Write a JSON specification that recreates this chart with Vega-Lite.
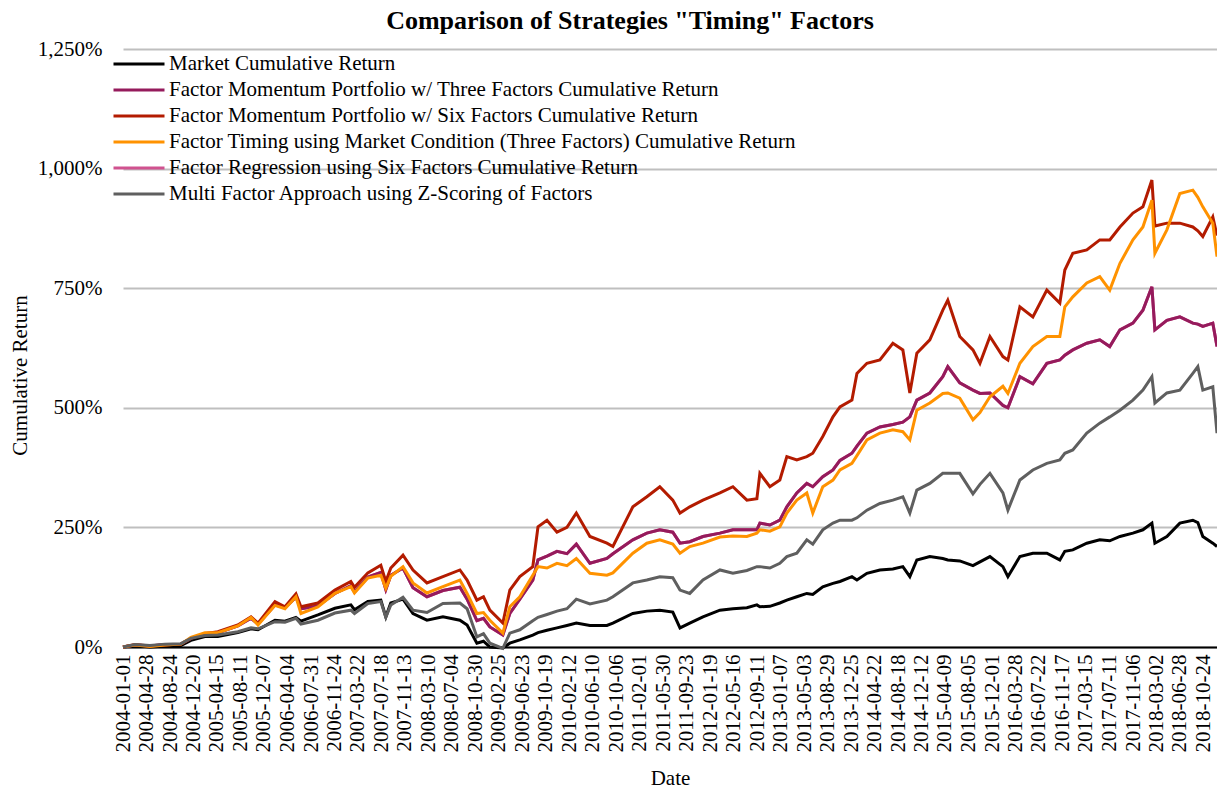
{
  "$schema": "https://vega.github.io/schema/vega-lite/v6.json",
  "width": 1094,
  "height": 598,
  "autosize": {"type": "none"},
  "padding": {"left": 123, "top": 49, "right": 0, "bottom": 145},
  "background": "white",
  "title": {"text": "Comparison of Strategies \"Timing\" Factors", "font": "Liberation Serif", "fontSize": 26, "fontWeight": "bold", "color": "black", "anchor": "middle", "frame": "group", "offset": 4, "dx": -40},
  "config": {"view": {"stroke": null}},
  "data": {"values": [
    {"d":"2004-01-01","mkt":0,"fm3":0,"fm6":0,"tim":0,"reg":0,"mf":0},
    {"d":"2004-03-01","mkt":3,"fm3":4,"fm6":5,"tim":4,"reg":4,"mf":5},
    {"d":"2004-05-15","mkt":0,"fm3":2,"fm6":2,"tim":1,"reg":2,"mf":3},
    {"d":"2004-07-29","mkt":2,"fm3":5,"fm6":4,"tim":4,"reg":5,"mf":6},
    {"d":"2004-10-17","mkt":3,"fm3":6,"fm6":6,"tim":6,"reg":6,"mf":7},
    {"d":"2004-12-06","mkt":14,"fm3":18,"fm6":18,"tim":20,"reg":18,"mf":18},
    {"d":"2005-02-14","mkt":22,"fm3":28,"fm6":28,"tim":30,"reg":28,"mf":24},
    {"d":"2005-04-20","mkt":22,"fm3":30,"fm6":32,"tim":30,"reg":30,"mf":25},
    {"d":"2005-07-29","mkt":30,"fm3":44,"fm6":46,"tim":44,"reg":44,"mf":32},
    {"d":"2005-10-03","mkt":38,"fm3":60,"fm6":63,"tim":62,"reg":60,"mf":40},
    {"d":"2005-11-07","mkt":36,"fm3":48,"fm6":50,"tim":46,"reg":48,"mf":38},
    {"d":"2006-01-31","mkt":56,"fm3":88,"fm6":95,"tim":87,"reg":88,"mf":53},
    {"d":"2006-03-22","mkt":54,"fm3":82,"fm6":84,"tim":80,"reg":82,"mf":52},
    {"d":"2006-05-16","mkt":62,"fm3":104,"fm6":111,"tim":105,"reg":104,"mf":60},
    {"d":"2006-06-10","mkt":54,"fm3":80,"fm6":84,"tim":70,"reg":80,"mf":48},
    {"d":"2006-09-03","mkt":67,"fm3":86,"fm6":92,"tim":84,"reg":86,"mf":56},
    {"d":"2006-11-27","mkt":81,"fm3":112,"fm6":119,"tim":112,"reg":112,"mf":71},
    {"d":"2007-02-15","mkt":88,"fm3":128,"fm6":137,"tim":126,"reg":128,"mf":77},
    {"d":"2007-03-05","mkt":78,"fm3":115,"fm6":125,"tim":113,"reg":115,"mf":70},
    {"d":"2007-05-11","mkt":95,"fm3":146,"fm6":155,"tim":144,"reg":146,"mf":91},
    {"d":"2007-07-15","mkt":98,"fm3":156,"fm6":171,"tim":150,"reg":156,"mf":95},
    {"d":"2007-08-09","mkt":63,"fm3":120,"fm6":137,"tim":123,"reg":120,"mf":62},
    {"d":"2007-09-03","mkt":92,"fm3":150,"fm6":165,"tim":148,"reg":150,"mf":88},
    {"d":"2007-11-03","mkt":100,"fm3":165,"fm6":192,"tim":168,"reg":165,"mf":104},
    {"d":"2007-12-23","mkt":70,"fm3":124,"fm6":161,"tim":134,"reg":124,"mf":77},
    {"d":"2008-03-02","mkt":56,"fm3":105,"fm6":134,"tim":113,"reg":105,"mf":72},
    {"d":"2008-05-21","mkt":63,"fm3":118,"fm6":147,"tim":126,"reg":118,"mf":91},
    {"d":"2008-08-14","mkt":56,"fm3":125,"fm6":161,"tim":140,"reg":125,"mf":92},
    {"d":"2008-09-19","mkt":46,"fm3":100,"fm6":140,"tim":112,"reg":100,"mf":80},
    {"d":"2008-11-07","mkt":8,"fm3":55,"fm6":98,"tim":70,"reg":55,"mf":21},
    {"d":"2008-12-10","mkt":12,"fm3":60,"fm6":105,"tim":72,"reg":60,"mf":28},
    {"d":"2009-01-11","mkt":0,"fm3":42,"fm6":77,"tim":56,"reg":42,"mf":8},
    {"d":"2009-03-17","mkt":-2,"fm3":25,"fm6":50,"tim":29,"reg":25,"mf":-3},
    {"d":"2009-04-21","mkt":8,"fm3":70,"fm6":119,"tim":84,"reg":70,"mf":29},
    {"d":"2009-06-10","mkt":15,"fm3":100,"fm6":147,"tim":105,"reg":100,"mf":36},
    {"d":"2009-08-14","mkt":25,"fm3":140,"fm6":168,"tim":150,"reg":140,"mf":55},
    {"d":"2009-09-09","mkt":30,"fm3":182,"fm6":251,"tim":168,"reg":182,"mf":62},
    {"d":"2009-10-24","mkt":35,"fm3":190,"fm6":265,"tim":165,"reg":190,"mf":68},
    {"d":"2009-12-13","mkt":40,"fm3":200,"fm6":240,"tim":175,"reg":200,"mf":75},
    {"d":"2010-02-01","mkt":45,"fm3":195,"fm6":250,"tim":170,"reg":195,"mf":80},
    {"d":"2010-03-20","mkt":50,"fm3":215,"fm6":280,"tim":185,"reg":215,"mf":100},
    {"d":"2010-05-27","mkt":45,"fm3":175,"fm6":231,"tim":154,"reg":175,"mf":90},
    {"d":"2010-08-20","mkt":45,"fm3":185,"fm6":217,"tim":150,"reg":185,"mf":98},
    {"d":"2010-09-19","mkt":50,"fm3":195,"fm6":210,"tim":155,"reg":195,"mf":105},
    {"d":"2010-12-28","mkt":70,"fm3":224,"fm6":293,"tim":196,"reg":224,"mf":134},
    {"d":"2011-03-08","mkt":75,"fm3":238,"fm6":314,"tim":217,"reg":238,"mf":140},
    {"d":"2011-05-12","mkt":77,"fm3":245,"fm6":335,"tim":224,"reg":245,"mf":147},
    {"d":"2011-07-16","mkt":73,"fm3":240,"fm6":307,"tim":215,"reg":240,"mf":145},
    {"d":"2011-08-21","mkt":40,"fm3":217,"fm6":280,"tim":196,"reg":217,"mf":119},
    {"d":"2011-10-09","mkt":50,"fm3":220,"fm6":293,"tim":210,"reg":220,"mf":112},
    {"d":"2011-12-14","mkt":63,"fm3":231,"fm6":307,"tim":217,"reg":231,"mf":140},
    {"d":"2012-03-08","mkt":77,"fm3":238,"fm6":322,"tim":230,"reg":238,"mf":161},
    {"d":"2012-05-12","mkt":80,"fm3":245,"fm6":335,"tim":232,"reg":245,"mf":154},
    {"d":"2012-07-21","mkt":82,"fm3":245,"fm6":307,"tim":231,"reg":245,"mf":160},
    {"d":"2012-09-09","mkt":88,"fm3":245,"fm6":310,"tim":238,"reg":245,"mf":168},
    {"d":"2012-09-24","mkt":84,"fm3":259,"fm6":363,"tim":245,"reg":259,"mf":168},
    {"d":"2012-11-13","mkt":85,"fm3":255,"fm6":335,"tim":242,"reg":255,"mf":165},
    {"d":"2013-01-02","mkt":92,"fm3":265,"fm6":349,"tim":251,"reg":265,"mf":175},
    {"d":"2013-02-06","mkt":98,"fm3":293,"fm6":398,"tim":280,"reg":293,"mf":189},
    {"d":"2013-03-28","mkt":105,"fm3":322,"fm6":391,"tim":307,"reg":322,"mf":196},
    {"d":"2013-05-17","mkt":112,"fm3":342,"fm6":398,"tim":322,"reg":342,"mf":224},
    {"d":"2013-06-16","mkt":110,"fm3":335,"fm6":405,"tim":280,"reg":335,"mf":215},
    {"d":"2013-08-05","mkt":126,"fm3":356,"fm6":440,"tim":335,"reg":356,"mf":245},
    {"d":"2013-09-25","mkt":133,"fm3":370,"fm6":481,"tim":349,"reg":370,"mf":259},
    {"d":"2013-10-30","mkt":137,"fm3":390,"fm6":502,"tim":370,"reg":390,"mf":265},
    {"d":"2013-12-29","mkt":147,"fm3":405,"fm6":516,"tim":384,"reg":405,"mf":265},
    {"d":"2014-01-23","mkt":140,"fm3":420,"fm6":572,"tim":400,"reg":420,"mf":270},
    {"d":"2014-03-14","mkt":154,"fm3":447,"fm6":593,"tim":433,"reg":447,"mf":286},
    {"d":"2014-05-18","mkt":161,"fm3":460,"fm6":600,"tim":447,"reg":460,"mf":300},
    {"d":"2014-07-22","mkt":163,"fm3":465,"fm6":635,"tim":454,"reg":465,"mf":307},
    {"d":"2014-09-10","mkt":168,"fm3":470,"fm6":621,"tim":450,"reg":470,"mf":314},
    {"d":"2014-10-15","mkt":147,"fm3":481,"fm6":531,"tim":433,"reg":481,"mf":280},
    {"d":"2014-11-19","mkt":182,"fm3":516,"fm6":614,"tim":495,"reg":516,"mf":328},
    {"d":"2015-01-23","mkt":189,"fm3":531,"fm6":642,"tim":510,"reg":531,"mf":342},
    {"d":"2015-03-29","mkt":185,"fm3":565,"fm6":704,"tim":530,"reg":565,"mf":363},
    {"d":"2015-04-23","mkt":182,"fm3":586,"fm6":725,"tim":531,"reg":586,"mf":363},
    {"d":"2015-06-22","mkt":180,"fm3":552,"fm6":649,"tim":520,"reg":552,"mf":363},
    {"d":"2015-08-27","mkt":170,"fm3":537,"fm6":621,"tim":475,"reg":537,"mf":320},
    {"d":"2015-10-01","mkt":178,"fm3":530,"fm6":593,"tim":490,"reg":530,"mf":340},
    {"d":"2015-11-20","mkt":189,"fm3":531,"fm6":649,"tim":523,"reg":531,"mf":363},
    {"d":"2016-01-24","mkt":168,"fm3":505,"fm6":607,"tim":545,"reg":505,"mf":322},
    {"d":"2016-02-18","mkt":147,"fm3":500,"fm6":600,"tim":530,"reg":500,"mf":286},
    {"d":"2016-04-18","mkt":189,"fm3":565,"fm6":711,"tim":593,"reg":565,"mf":349},
    {"d":"2016-06-22","mkt":196,"fm3":550,"fm6":690,"tim":628,"reg":550,"mf":370},
    {"d":"2016-08-31","mkt":196,"fm3":593,"fm6":746,"tim":649,"reg":593,"mf":384},
    {"d":"2016-11-04","mkt":182,"fm3":600,"fm6":719,"tim":649,"reg":600,"mf":391},
    {"d":"2016-11-29","mkt":200,"fm3":610,"fm6":788,"tim":711,"reg":610,"mf":405},
    {"d":"2017-01-08","mkt":203,"fm3":621,"fm6":823,"tim":732,"reg":621,"mf":412},
    {"d":"2017-03-19","mkt":217,"fm3":635,"fm6":830,"tim":761,"reg":635,"mf":447},
    {"d":"2017-05-23","mkt":224,"fm3":642,"fm6":851,"tim":774,"reg":642,"mf":468},
    {"d":"2017-07-12","mkt":222,"fm3":628,"fm6":851,"tim":746,"reg":628,"mf":481},
    {"d":"2017-09-01","mkt":231,"fm3":663,"fm6":878,"tim":802,"reg":663,"mf":495},
    {"d":"2017-11-05","mkt":238,"fm3":677,"fm6":907,"tim":851,"reg":677,"mf":516},
    {"d":"2017-12-25","mkt":245,"fm3":704,"fm6":920,"tim":878,"reg":704,"mf":537},
    {"d":"2018-02-08","mkt":259,"fm3":753,"fm6":976,"tim":934,"reg":753,"mf":565},
    {"d":"2018-02-23","mkt":217,"fm3":663,"fm6":880,"tim":823,"reg":663,"mf":510},
    {"d":"2018-04-24","mkt":231,"fm3":683,"fm6":886,"tim":872,"reg":683,"mf":531},
    {"d":"2018-06-28","mkt":259,"fm3":690,"fm6":886,"tim":948,"reg":690,"mf":537},
    {"d":"2018-09-01","mkt":265,"fm3":677,"fm6":878,"tim":955,"reg":677,"mf":572},
    {"d":"2018-09-26","mkt":260,"fm3":675,"fm6":870,"tim":940,"reg":675,"mf":586},
    {"d":"2018-10-21","mkt":231,"fm3":670,"fm6":858,"tim":920,"reg":670,"mf":537},
    {"d":"2018-12-10","mkt":217,"fm3":677,"fm6":899,"tim":886,"reg":677,"mf":544},
    {"d":"2018-12-31","mkt":210,"fm3":628,"fm6":860,"tim":816,"reg":628,"mf":447}
  ]},
  "transform": [{"fold": ["reg", "mkt", "fm3", "fm6", "tim", "mf"], "as": ["series", "value"]}],
  "mark": {"type": "line", "strokeWidth": 3, "strokeJoin": "miter", "clip": false},
  "encoding": {
    "x": {
      "field": "d", "type": "temporal",
      "scale": {"type": "utc", "domain": [{"year": 2004, "month": 1, "date": 1, "utc": true}, {"year": 2018, "month": 12, "date": 31, "utc": true}]},
      "axis": {
        "title": "Date", "titleFont": "Liberation Serif", "titleFontSize": 21, "titleFontWeight": "normal", "titleColor": "black",
        "titleY": 131, "titleBaseline": "middle",
        "format": "%Y-%m-%d", "labelAngle": -90, "labelFont": "Liberation Serif", "labelFontSize": 21, "labelColor": "black",
        "labelOverlap": false, "labelBound": false, "labelFlush": false, "labelPadding": 7,
        "ticks": false, "grid": false, "domainColor": "black", "domainWidth": 2,
        "values": [
          {"year":2004,"month":1,"date":1,"utc":true},{"year":2004,"month":4,"date":28,"utc":true},{"year":2004,"month":8,"date":24,"utc":true},{"year":2004,"month":12,"date":20,"utc":true},
          {"year":2005,"month":4,"date":15,"utc":true},{"year":2005,"month":8,"date":11,"utc":true},{"year":2005,"month":12,"date":7,"utc":true},
          {"year":2006,"month":4,"date":4,"utc":true},{"year":2006,"month":7,"date":31,"utc":true},{"year":2006,"month":11,"date":24,"utc":true},
          {"year":2007,"month":3,"date":22,"utc":true},{"year":2007,"month":7,"date":18,"utc":true},{"year":2007,"month":11,"date":13,"utc":true},
          {"year":2008,"month":3,"date":10,"utc":true},{"year":2008,"month":7,"date":4,"utc":true},{"year":2008,"month":10,"date":30,"utc":true},
          {"year":2009,"month":2,"date":25,"utc":true},{"year":2009,"month":6,"date":23,"utc":true},{"year":2009,"month":10,"date":19,"utc":true},
          {"year":2010,"month":2,"date":12,"utc":true},{"year":2010,"month":6,"date":10,"utc":true},{"year":2010,"month":10,"date":6,"utc":true},
          {"year":2011,"month":2,"date":1,"utc":true},{"year":2011,"month":5,"date":30,"utc":true},{"year":2011,"month":9,"date":23,"utc":true},
          {"year":2012,"month":1,"date":19,"utc":true},{"year":2012,"month":5,"date":16,"utc":true},{"year":2012,"month":9,"date":11,"utc":true},
          {"year":2013,"month":1,"date":7,"utc":true},{"year":2013,"month":5,"date":3,"utc":true},{"year":2013,"month":8,"date":29,"utc":true},{"year":2013,"month":12,"date":25,"utc":true},
          {"year":2014,"month":4,"date":22,"utc":true},{"year":2014,"month":8,"date":18,"utc":true},{"year":2014,"month":12,"date":12,"utc":true},
          {"year":2015,"month":4,"date":9,"utc":true},{"year":2015,"month":8,"date":5,"utc":true},{"year":2015,"month":12,"date":1,"utc":true},
          {"year":2016,"month":3,"date":28,"utc":true},{"year":2016,"month":7,"date":22,"utc":true},{"year":2016,"month":11,"date":17,"utc":true},
          {"year":2017,"month":3,"date":15,"utc":true},{"year":2017,"month":7,"date":11,"utc":true},{"year":2017,"month":11,"date":6,"utc":true},
          {"year":2018,"month":3,"date":2,"utc":true},{"year":2018,"month":6,"date":28,"utc":true},{"year":2018,"month":10,"date":24,"utc":true}
        ]
      }
    },
    "y": {
      "field": "value", "type": "quantitative",
      "scale": {"domain": [0, 1250], "nice": false, "zero": true},
      "axis": {
        "title": "Cumulative Return", "titleFont": "Liberation Serif", "titleFontSize": 21, "titleFontWeight": "normal", "titleColor": "black",
        "titleX": -103, "titleY": 326, "titleAngle": -90, "titleAlign": "center", "titleBaseline": "middle",
        "values": [0, 250, 500, 750, 1000, 1250],
        "labelExpr": "format(datum.value, ',') + '%'",
        "labelFont": "Liberation Serif", "labelFontSize": 21, "labelColor": "black", "labelPadding": 21,
        "ticks": false, "domain": false, "grid": true, "gridColor": "#BFBFBF", "gridWidth": 2
      }
    },
    "color": {
      "field": "series", "type": "nominal",
      "scale": {"domain": ["mkt", "fm3", "fm6", "tim", "reg", "mf"], "range": ["#000000", "#951B5C", "#B31B00", "#FF9200", "#D0528F", "#5F5F5F"]},
      "legend": {
        "title": null, "orient": "none", "legendX": -11, "legendY": 2, "padding": 0,
        "symbolType": "stroke", "symbolSize": 2601, "symbolStrokeWidth": 3, "clipHeight": 26, "rowPadding": 0,
        "labelFont": "Liberation Serif", "labelFontSize": 21, "labelColor": "black", "labelLimit": 1000, "labelOffset": 3,
        "labelExpr": "{'mkt': 'Market Cumulative Return', 'fm3': 'Factor Momentum Portfolio w/ Three Factors Cumulative Return', 'fm6': 'Factor Momentum Portfolio w/ Six Factors Cumulative Return', 'tim': 'Factor Timing using Market Condition (Three Factors) Cumulative Return', 'reg': 'Factor Regression using Six Factors Cumulative Return', 'mf': 'Multi Factor Approach using Z-Scoring of Factors'}[datum.label]"
      }
    }
  }
}
